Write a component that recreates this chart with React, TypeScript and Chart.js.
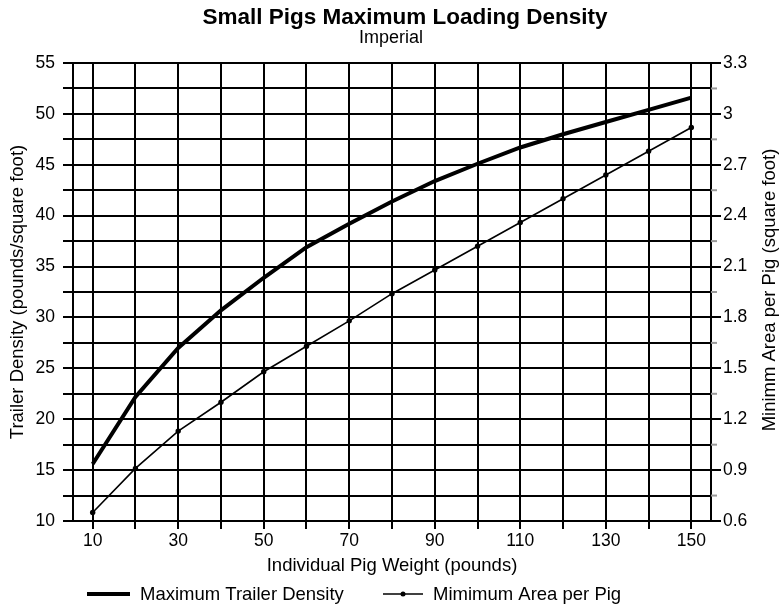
import React, { useEffect, useRef } from 'react';
import { Chart, registerables } from 'chart.js';

Chart.register(...registerables);

// ---- data ----
const weights = [10, 20, 30, 40, 50, 60, 70, 80, 90, 100, 110, 120, 130, 140, 150];
const labelledWeights = [10, 30, 50, 70, 90, 110, 130, 150];
const maxTrailerDensity = [15.6, 22.2, 27.0, 30.7, 33.9, 36.9, 39.2, 41.4, 43.4, 45.1, 46.7, 48.0, 49.2, 50.4, 51.6];
const minAreaPerPig = [0.65, 0.91, 1.13, 1.3, 1.48, 1.63, 1.78, 1.94, 2.08, 2.22, 2.36, 2.5, 2.64, 2.78, 2.92];
const leftTicks = [10, 15, 20, 25, 30, 35, 40, 45, 50, 55];
const rightTicks = [0.6, 0.9, 1.2, 1.5, 1.8, 2.1, 2.4, 2.7, 3, 3.3];
const xRange = [5.4, 154.6];

const titleText = 'Small Pigs Maximum Loading Density';
const subtitleText = 'Imperial';
const xTitle = 'Individual Pig Weight (pounds)';
const yLeftTitle = 'Trailer Density (pounds/square foot)';
const yRightTitle = 'Minimm Area per Pig (square foot)';
const legendLabels = ['Maximum Trailer Density', 'Mimimum Area per Pig'];

const FONT = '"Liberation Sans", Arial, Helvetica, sans-serif';

const overlayPlugin = {
  id: 'overlayText',
  afterDraw(chart: any) {
    const ctx = chart.ctx as CanvasRenderingContext2D;
    const area = chart.chartArea;
    const yr = chart.scales.yRight;
    ctx.save();
    // minor gray ticks on the right axis
    ctx.strokeStyle = '#999999';
    ctx.lineWidth = 2;
    for (let i = 0; i < rightTicks.length - 1; i++) {
      const v = (rightTicks[i] + rightTicks[i + 1]) / 2;
      const py = yr.getPixelForValue(v);
      ctx.beginPath();
      ctx.moveTo(area.right, py);
      ctx.lineTo(area.right + 6, py);
      ctx.stroke();
    }
    // title & subtitle
    const cx = (area.left + area.right) / 2;
    ctx.fillStyle = '#000';
    ctx.textAlign = 'center';
    ctx.textBaseline = 'alphabetic';
    ctx.font = `bold 22.5px ${FONT}`;
    ctx.fillText(titleText, cx + 13, 24);
    ctx.font = `18px ${FONT}`;
    ctx.fillText(subtitleText, cx - 1, 43);

    // right axis title (reads bottom-to-top)
    ctx.save();
    ctx.translate(770, (area.top + area.bottom) / 2 - 2);
    ctx.rotate(-Math.PI / 2);
    ctx.textBaseline = 'middle';
    ctx.textAlign = 'center';
    ctx.font = `18.5px ${FONT}`;
    ctx.fillText(yRightTitle, 0, 0);
    ctx.restore();

    // legend
    const ly = 594;
    const l = area.left;
    ctx.font = `18.5px ${FONT}`;
    ctx.textAlign = 'left';
    ctx.textBaseline = 'alphabetic';
    ctx.lineCap = 'butt';
    ctx.strokeStyle = '#000';
    ctx.lineWidth = 4;
    ctx.beginPath();
    ctx.moveTo(l + 14, ly);
    ctx.lineTo(l + 57, ly);
    ctx.stroke();
    ctx.fillText(legendLabels[0], l + 67, ly + 6);

    ctx.lineWidth = 1.6;
    ctx.beginPath();
    ctx.moveTo(l + 310, ly);
    ctx.lineTo(l + 350, ly);
    ctx.stroke();
    ctx.beginPath();
    ctx.arc(l + 330, ly, 2.5, 0, Math.PI * 2);
    ctx.fill();
    ctx.fillText(legendLabels[1], l + 360, ly + 6);
    ctx.restore();
  },
};

export default function App() {
  const canvasRef = useRef<HTMLCanvasElement | null>(null);

  useEffect(() => {
    document.body.style.margin = '0';
    Chart.defaults.font.family = FONT;
    Chart.defaults.color = '#000';
    const canvas = canvasRef.current;
    if (!canvas) return;

    const chart = new Chart(canvas, {
      type: 'line',
      data: {
        datasets: [
          {
            label: legendLabels[0],
            data: weights.map((w, i) => ({ x: w, y: maxTrailerDensity[i] })),
            borderColor: '#000',
            backgroundColor: '#000',
            borderWidth: 4,
            pointRadius: 0,
            tension: 0,
            yAxisID: 'y',
          },
          {
            label: legendLabels[1],
            data: weights.map((w, i) => ({ x: w, y: minAreaPerPig[i] })),
            borderColor: '#000',
            backgroundColor: '#000',
            borderWidth: 1.6,
            pointRadius: 2.7,
            pointBorderWidth: 0,
            pointBackgroundColor: '#000',
            tension: 0,
            yAxisID: 'yRight',
          },
        ],
      },
      options: {
        animation: false,
        responsive: true,
        maintainAspectRatio: false,
        layout: { padding: { top: 63, bottom: 30, left: 0, right: 0 } },
        plugins: {
          legend: { display: false },
          title: { display: false },
          tooltip: { enabled: false },
        },
        scales: {
          x: {
            type: 'linear',
            min: xRange[0],
            max: xRange[1],
            afterBuildTicks: (scale: any) => {
              scale.ticks = weights.map((value) => ({ value }));
            },
            afterFit: (scale: any) => {
              scale.height = 56;
            },
            ticks: {
              autoSkip: false,
              maxRotation: 0,
              padding: 2,
              font: { size: 17.5 },
              color: '#000',
              callback: (v: any) => (labelledWeights.includes(Number(v)) ? String(v) : ''),
            },
            grid: {
              color: '#000',
              lineWidth: 2,
              tickLength: 8,
              drawTicks: true,
            },
            border: { display: true, color: '#000', width: 2 },
            title: {
              display: true,
              text: xTitle,
              font: { size: 18.5 },
              color: '#000',
              padding: { top: 0, bottom: 0 },
            },
          },
          y: {
            type: 'linear',
            position: 'left',
            min: leftTicks[0],
            max: leftTicks[leftTicks.length - 1],
            afterBuildTicks: (scale: any) => {
              const vals: number[] = [];
              leftTicks.forEach((v, i) => {
                vals.push(v);
                if (i < leftTicks.length - 1) vals.push((v + leftTicks[i + 1]) / 2);
              });
              scale.ticks = vals.map((value) => ({ value }));
            },
            afterFit: (scale: any) => {
              scale.width = 73;
            },
            ticks: {
              padding: 8,
              font: { size: 17.5 },
              color: '#000',
              callback: (v: any) => (leftTicks.includes(Number(v)) ? String(v) : ''),
            },
            grid: {
              color: '#000',
              lineWidth: 2,
              tickLength: 10,
            },
            border: { display: true, color: '#000', width: 2 },
            title: {
              display: true,
              text: yLeftTitle,
              font: { size: 18.5 },
              color: '#000',
              padding: { top: 7, bottom: 0 },
            },
          },
          yRight: {
            type: 'linear',
            position: 'right',
            min: rightTicks[0],
            max: rightTicks[rightTicks.length - 1],
            afterBuildTicks: (scale: any) => {
              scale.ticks = rightTicks.map((value) => ({ value }));
            },
            afterFit: (scale: any) => {
              scale.width = 71;
            },
            ticks: {
              padding: 2,
              font: { size: 17.5 },
              color: '#000',
              callback: (v: any) => String(v),
            },
            grid: {
              drawOnChartArea: false,
              color: '#000',
              lineWidth: 2,
              tickLength: 10,
            },
            border: { display: true, color: '#000', width: 2 },
            title: { display: false },
          },
        },
      },
      plugins: [overlayPlugin],
    } as any);

    return () => chart.destroy();
  }, []);

  return (
    <div style={{ width: 782, height: 607, position: 'relative' }}>
      <canvas ref={canvasRef} />
    </div>
  );
}
